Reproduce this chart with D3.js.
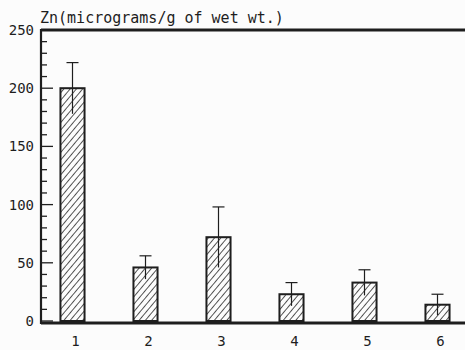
<!DOCTYPE html>
<html><head><meta charset="utf-8">
<script src="https://cdn.jsdelivr.net/npm/d3@7"></script>
<style>body{margin:0;background:#fcfcfc}svg{display:block}</style>
</head><body>
<svg id="c" width="465" height="350"></svg>
<script>
const categories = ["1","2","3","4","5","6"];
const values = [200, 46, 72, 23, 33, 14];
const errors = [22, 10, 26, 10, 11, 9];
const yTicks = [0, 50, 100, 150, 200, 250];
const title = "Zn(micrograms/g of wet wt.)";

const svg = d3.select("#c");
const ink = "#1e1e1e";
const font = "'DejaVu Sans Mono', monospace";

const y = d3.scaleLinear().domain([0, 250]).range([321, 30]);
const x = d3.scaleBand().domain(categories).range([36, 474]).paddingInner(0.67).paddingOuter(0.335);

const defs = svg.append("defs");
const hs = 4.8;
const pat = defs.append("pattern").attr("id","hatch").attr("patternUnits","userSpaceOnUse")
  .attr("width",hs).attr("height",hs).attr("patternTransform","rotate(40)");
pat.append("rect").attr("width",hs).attr("height",hs).attr("fill","#fcfcfc");
pat.append("line").attr("x1",0).attr("y1",0).attr("x2",0).attr("y2",hs).attr("stroke",ink).attr("stroke-width",1.5);

// frame
const xL = 41, xR = 465;
svg.append("line").attr("x1",xL).attr("x2",xR).attr("y1",y(250)).attr("y2",y(250)).attr("stroke",ink).attr("stroke-width",3);
svg.append("line").attr("x1",xL).attr("x2",xR).attr("y1",y(0)+2).attr("y2",y(0)+2).attr("stroke",ink).attr("stroke-width",3);
svg.append("line").attr("x1",xL).attr("x2",xL).attr("y1",y(250)-1).attr("y2",y(0)+3).attr("stroke",ink).attr("stroke-width",2.2);

// y ticks (inside)
const minor = d3.range(0, 251, 10);
svg.append("g").selectAll("line").data(minor).join("line")
  .attr("x1",xL).attr("x2",d => d % 50 === 0 ? xL+12 : xL+6)
  .attr("y1",d=>y(d)).attr("y2",d=>y(d)).attr("stroke",ink).attr("stroke-width",1.3);
svg.append("g").selectAll("text").data(yTicks).join("text")
  .attr("x",34).attr("y",d=>y(d)+5).attr("text-anchor","end")
  .attr("font-family",font).attr("font-size",14).attr("fill",ink).text(d=>d);

// x labels
svg.append("g").selectAll("text").data(categories).join("text")
  .attr("x",d=>x(d)+x.bandwidth()/2+3).attr("y",346).attr("text-anchor","middle")
  .attr("font-family",font).attr("font-size",14).attr("fill",ink).text(d=>d);

// bars
const data = categories.map((c,i)=>({c, v:values[i], e:errors[i]}));
svg.append("g").selectAll("rect").data(data).join("rect")
  .attr("x",d=>x(d.c)).attr("width",x.bandwidth())
  .attr("y",d=>y(d.v)).attr("height",d=>y(0)-y(d.v))
  .attr("fill","url(#hatch)").attr("stroke",ink).attr("stroke-width",2);

// error bars
const eg = svg.append("g").attr("stroke",ink).attr("stroke-width",1.2);
eg.selectAll("line.v").data(data).join("line").attr("class","v")
  .attr("x1",d=>x(d.c)+x.bandwidth()/2).attr("x2",d=>x(d.c)+x.bandwidth()/2)
  .attr("y1",d=>y(d.v+d.e)).attr("y2",d=>y(d.v-d.e));
eg.selectAll("line.cap").data(data).join("line").attr("class","cap")
  .attr("x1",d=>x(d.c)+x.bandwidth()/2-6).attr("x2",d=>x(d.c)+x.bandwidth()/2+6)
  .attr("y1",d=>y(d.v+d.e)).attr("y2",d=>y(d.v+d.e));

// title
svg.append("text").attr("x",40).attr("y",23).attr("font-family",font).attr("font-size",15)
  .attr("fill",ink).text(title);
</script>
</body></html>
